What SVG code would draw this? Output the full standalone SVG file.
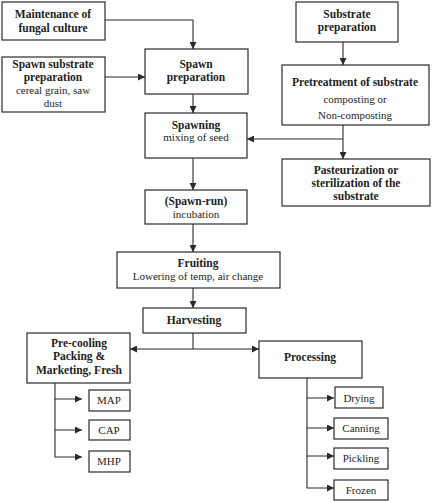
<svg xmlns="http://www.w3.org/2000/svg" width="433" height="502" viewBox="0 0 433 502">
<defs>
<marker id="ah" viewBox="0 0 10 10" refX="10" refY="5" markerWidth="7" markerHeight="7" markerUnits="userSpaceOnUse" orient="auto">
<path d="M0,0 L10,5 L0,10 z" fill="#2a2a2a"/>
</marker>
<style>
rect{fill:#fff;stroke:#2a2a2a;stroke-width:1.2}
text{font-size:11px;fill:#1e1e1e;text-anchor:middle}
.b{font-weight:bold;font-size:11.5px}
#connectors path{fill:none;stroke:#2a2a2a;stroke-width:1.1;marker-end:url(#ah)}
</style>
</defs>
<rect x="0" y="0" width="433" height="502" style="fill:#fff;stroke:none"/>
<g id="connectors">
<path d="M105,20 H193 V49"/>
<path d="M105,77 H145"/>
<path d="M193,94 V113"/>
<path d="M343,42 V65"/>
<path d="M343,125 V159"/>
<path d="M343,139 H247"/>
<path d="M193,158 V190"/>
<path d="M193,224 V252"/>
<path d="M193,288 V308"/>
<path d="M193,333 V349 H130"/>
<path d="M193,349 H259"/>
<path d="M55,383 V399 H82"/>
<path d="M55,399 V430 H82"/>
<path d="M55,430 V457 H82"/>
<path d="M307,378 V398 H334"/>
<path d="M307,398 V428 H334"/>
<path d="M307,428 V456 H334"/>
<path d="M307,456 V488 H334"/>
</g>
<g font-family="'Liberation Serif', 'DejaVu Serif', serif">
<g id="maintenance"><rect x="2" y="2" width="103" height="38"/><text class="b" x="53" y="18">Maintenance of</text><text class="b" x="53" y="32">fungal culture</text></g>
<g id="spawn-substrate"><rect x="2" y="57" width="103" height="55"/><text class="b" x="53" y="68">Spawn substrate</text><text class="b" x="53" y="81">preparation</text><text x="53" y="94">cereal grain, saw</text><text x="53" y="107">dust</text></g>
<g id="spawn-prep"><rect x="145" y="49" width="103" height="45"/><text class="b" x="196" y="68">Spawn</text><text class="b" x="196" y="81">preparation</text></g>
<g id="substrate-prep"><rect x="296" y="2" width="102" height="40"/><text class="b" x="347" y="18">Substrate</text><text class="b" x="347" y="31">preparation</text></g>
<g id="pretreatment"><rect x="282" y="65" width="147" height="60"/><text class="b" x="355" y="86">Pretreatment of substrate</text><text x="355" y="103">composting or</text><text x="355" y="119">Non-composting</text></g>
<g id="pasteurization"><rect x="282" y="159" width="148" height="47"/><text class="b" x="356" y="174">Pasteurization or</text><text class="b" x="356" y="187">sterilization of the</text><text class="b" x="356" y="200">substrate</text></g>
<g id="spawning"><rect x="145" y="113" width="102" height="45"/><text class="b" x="196" y="129">Spawning</text><text x="196" y="141">mixing of seed</text></g>
<g id="spawn-run"><rect x="145" y="190" width="102" height="34"/><text class="b" x="196" y="205">(Spawn-run)</text><text x="196" y="218">incubation</text></g>
<g id="fruiting"><rect x="117" y="252" width="163" height="36"/><text class="b" x="198" y="267">Fruiting</text><text x="198" y="280">Lowering of temp, air change</text></g>
<g id="harvesting"><rect x="143" y="308" width="103" height="25"/><text class="b" x="194" y="324">Harvesting</text></g>
<g id="precooling"><rect x="27" y="333" width="103" height="50"/><text class="b" x="79" y="347">Pre-cooling</text><text class="b" x="79" y="360">Packing &amp;</text><text class="b" x="79" y="374">Marketing, Fresh</text></g>
<g id="processing"><rect x="259" y="341" width="103" height="37"/><text class="b" x="310" y="361">Processing</text></g>
<g id="map"><rect x="89" y="390" width="41" height="21"/><text x="109" y="404">MAP</text></g>
<g id="cap"><rect x="89" y="420" width="41" height="20"/><text x="109" y="434">CAP</text></g>
<g id="mhp"><rect x="89" y="451" width="41" height="21"/><text x="109" y="465">MHP</text></g>
<g id="drying"><rect x="335" y="387" width="48" height="21"/><text x="359" y="402">Drying</text></g>
<g id="canning"><rect x="334" y="418" width="54" height="21"/><text x="361" y="432">Canning</text></g>
<g id="pickling"><rect x="334" y="448" width="54" height="21"/><text x="361" y="462">Pickling</text></g>
<g id="frozen"><rect x="334" y="480" width="54" height="20"/><text x="361" y="494">Frozen</text></g>
</g>
</svg>
